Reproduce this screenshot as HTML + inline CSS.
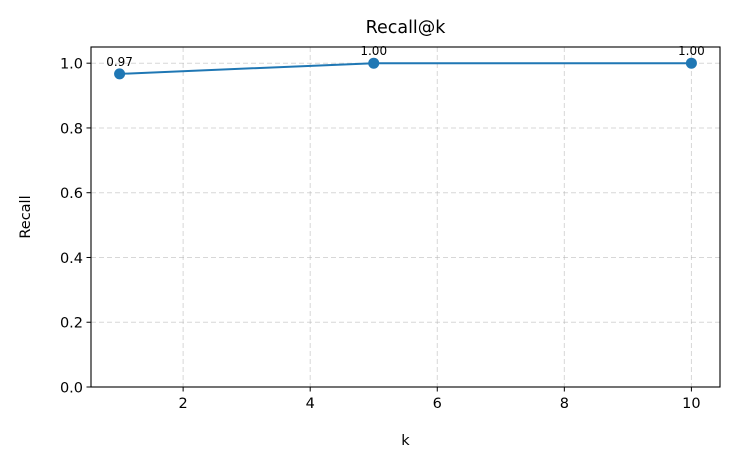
<!DOCTYPE html>
<html><head><meta charset="utf-8"><style>
html,body{margin:0;padding:0;background:#fff;}
svg{display:block;font-family:"DejaVu Sans","Liberation Sans",sans-serif;}
</style></head><body>
<svg id="chart" width="735" height="465" viewBox="0 0 735 465"></svg>
<script>
const categories = [1, 5, 10];
const recallValues = [0.967, 1.0, 1.0];
const valueLabels = ["0.97", "1.00", "1.00"];
const xTicks = [2, 4, 6, 8, 10];
const yTicks = [0.0, 0.2, 0.4, 0.6, 0.8, 1.0];
const yTickLabels = ["0.0", "0.2", "0.4", "0.6", "0.8", "1.0"];

const L = 91, R = 720, T = 47, B = 387;
const xMin = 0.55, xMax = 10.45, yMin = 0, yMax = 1.05;
const xs = v => L + (v - xMin) / (xMax - xMin) * (R - L);
const ys = v => B - (v - yMin) / (yMax - yMin) * (B - T);
const svg = document.getElementById('chart');
const NS = 'http://www.w3.org/2000/svg';
function mk(tag, attrs, parent) {
  const e = document.createElementNS(NS, tag);
  for (const k in attrs) e.setAttribute(k, attrs[k]);
  (parent || svg).appendChild(e);
  return e;
}
const grid = mk('g', {});


xTicks.forEach(t => mk('line', {x1: xs(t), x2: xs(t), y1: T, y2: B, stroke: '#b0b0b0', 'stroke-width': 1, 'stroke-dasharray': '5,3', opacity: 0.5}, grid));
yTicks.forEach(t => mk('line', {x1: L, x2: R, y1: ys(t), y2: ys(t), stroke: '#b0b0b0', 'stroke-width': 1, 'stroke-dasharray': '5,3', opacity: 0.5}, grid));
const xa = mk('g', {});


xTicks.forEach(t => {
  mk('line', {x1: xs(t), x2: xs(t), y1: B, y2: B + 4.5, stroke: '#000', 'stroke-width': 1}, xa);
  const tx = mk('text', {x: xs(t), y: B + 21, 'text-anchor': 'middle', 'font-size': 14.5}, xa);
  tx.textContent = t;
});
const ya = mk('g', {});


yTicks.forEach((t, i) => {
  mk('line', {x1: L - 4.5, x2: L, y1: ys(t), y2: ys(t), stroke: '#000', 'stroke-width': 1}, ya);
  const tx = mk('text', {x: L - 8, y: ys(t) + 5.5, 'text-anchor': 'end', 'font-size': 14.5}, ya);
  tx.textContent = yTickLabels[i];
});
const line = mk('polyline', {points: categories.map((c, i) => xs(c) + ',' + ys(recallValues[i])).join(' '), fill: 'none', stroke: '#1f77b4', 'stroke-width': 2});


categories.forEach((c, i) => {
  const p = mk('circle', {cx: xs(c), cy: ys(recallValues[i]), r: 5.5, fill: '#1f77b4'});
  
  
  const lb = mk('text', {x: xs(c), y: ys(recallValues[i]) - 8, 'text-anchor': 'middle', 'font-size': 12}, svg);
  
  
  lb.textContent = valueLabels[i];
});
const fr = mk('rect', {x: L, y: T, width: R - L, height: B - T, fill: 'none', stroke: '#000', 'stroke-width': 1.1});


const title = mk('text', {x: (L + R) / 2, y: 33, 'text-anchor': 'middle', 'font-size': 17.5});


title.textContent = 'Recall@k';
const xt = mk('text', {x: (L + R) / 2, y: 445, 'text-anchor': 'middle', 'font-size': 14.5});


xt.textContent = 'k';
const yt = mk('text', {x: 30, y: (T + B) / 2, 'text-anchor': 'middle', 'font-size': 14.5, transform: 'rotate(-90 30 ' + (T + B) / 2 + ')'});


yt.textContent = 'Recall';
</script>
</body></html>
